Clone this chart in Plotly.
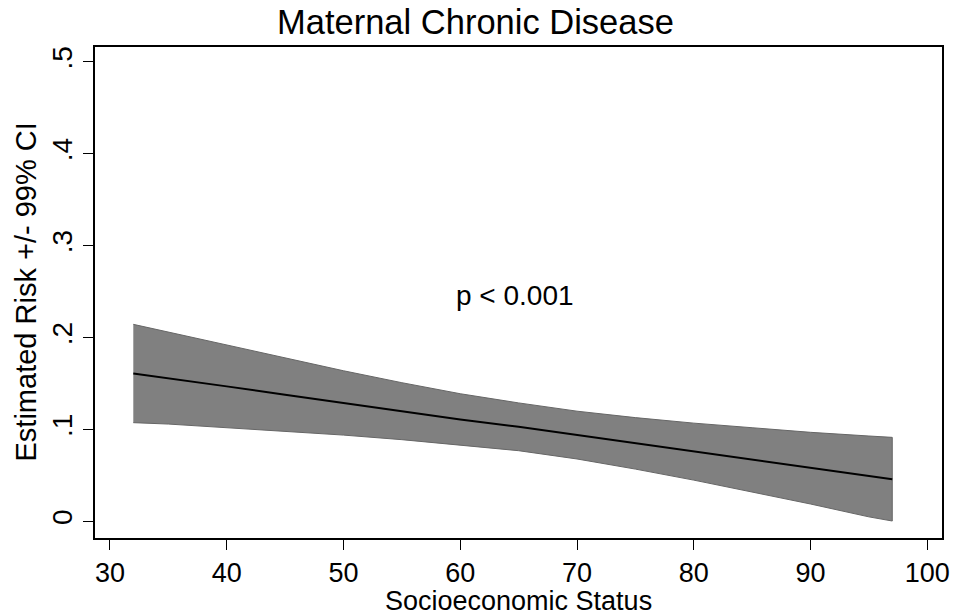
import plotly.graph_objects as go

# Data
ses = [32, 35, 40, 45, 50, 55, 60, 65, 70, 75, 80, 85, 90, 95, 97]
risk = [0.161, 0.156, 0.147, 0.138, 0.129, 0.120, 0.111, 0.103, 0.094, 0.085, 0.076, 0.067, 0.058, 0.049, 0.046]
ci_upper = [0.2145, 0.206, 0.192, 0.178, 0.164, 0.151, 0.139, 0.129, 0.120, 0.113, 0.107, 0.102, 0.097, 0.093, 0.0915]
ci_lower = [0.1075, 0.106, 0.102, 0.098, 0.094, 0.089, 0.083, 0.077, 0.068, 0.057, 0.045, 0.032, 0.019, 0.005, 0.0005]

x_ticks = [30, 40, 50, 60, 70, 80, 90, 100]
y_ticks = [0, 0.1, 0.2, 0.3, 0.4, 0.5]
y_ticktext = ["0", ".1", ".2", ".3", ".4", ".5"]

title_text = "Maternal Chronic Disease"
x_title = "Socioeconomic Status"
y_title = "Estimated Risk +/- 99% CI"
p_text = "p < 0.001"
p_pos = (64.7, 0.246)

FONT = "Liberation Sans, Arial, sans-serif"

fig = go.Figure()

# CI band as closed polygon
fig.add_trace(go.Scatter(
    x=ses + ses[::-1],
    y=ci_upper + ci_lower[::-1],
    mode="lines",
    fill="toself",
    fillcolor="#808080",
    line=dict(color="#666666", width=1),
    hoverinfo="skip",
    showlegend=False,
))

fig.add_trace(go.Scatter(
    x=ses, y=risk, mode="lines",
    line=dict(color="black", width=2),
    showlegend=False,
))

axis_common = dict(
    showline=True, mirror=True, linecolor="black", linewidth=1.5,
    ticks="outside", ticklen=10, tickwidth=1.3, tickcolor="black",
    showgrid=False, zeroline=False,
)

fig.update_xaxes(range=[28.72, 101.26], tickvals=x_ticks,
                 tickfont=dict(family=FONT, size=27, color="black"), **axis_common)
fig.update_yaxes(range=[-0.018, 0.5163], tickvals=y_ticks, ticktext=y_ticktext,
                 tickangle=-90, tickfont=dict(family=FONT, size=28, color="black"),
                 **axis_common)

fig.add_annotation(x=p_pos[0], y=p_pos[1], xref="x", yref="y", text=p_text,
                   showarrow=False, font=dict(family=FONT, size=28, color="black"))

fig.add_annotation(x=0.449, y=1, xref="paper", yref="paper", text=title_text,
                   showarrow=False, yanchor="middle", yshift=25,
                   font=dict(family=FONT, size=34.5, color="black"))

fig.add_annotation(x=0.5, y=0, xref="paper", yref="paper", text=x_title,
                   showarrow=False, yanchor="middle", yshift=-63,
                   font=dict(family=FONT, size=27, color="black"))

fig.add_annotation(x=0, y=0.5, xref="paper", yref="paper", text=y_title,
                   showarrow=False, xanchor="center", textangle=-90, xshift=-70,
                   font=dict(family=FONT, size=29, color="black"))

fig.update_layout(
    width=958, height=616,
    margin=dict(l=95, r=8, t=47, b=78),
    paper_bgcolor="white", plot_bgcolor="white",
    showlegend=False,
)

fig.write_html("out.html")
